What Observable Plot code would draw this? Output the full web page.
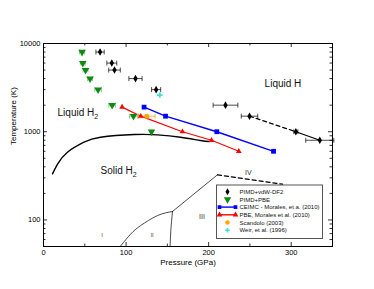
<!DOCTYPE html>
<html><head><meta charset="utf-8">
<script src="https://cdn.jsdelivr.net/npm/d3@7"></script>
<script src="https://cdn.jsdelivr.net/npm/@observablehq/plot@0.6"></script>
<style>
body{margin:0;background:#fff;}
#chart{width:374px;height:289px;}
</style>
</head><body><div id="chart"></div>
<script>
// ---------- data ----------
const vdwP   = [68.5, 82.7, 86, 111.4, 136.4, 220.4, 249.5, 305.6, 334.6];
const vdwT   = [8000, 6000, 5000, 4000, 3000, 2000, 1500, 1000, 800];
const vdwErr = [5, 6, 7, 8, 5.5, 15, 10, 2.5, 17];

const pbeP   = [46.7, 47.6, 50.9, 56.4, 66.1, 83.1, 109, 130.8];
const pbeT   = [8000, 6000, 5000, 4000, 3000, 2000, 1500, 1000];
const pbeErr = [3, 3, 3, 3, 4, 4, 5, 0];

const ceimcP = [121.8, 147.8, 209.9, 278.6];
const ceimcT = [1900, 1500, 1000, 600];

const moralesP = [95.2, 117.8, 168.3, 203.5, 236.5];
const moralesT = [1900, 1500, 1000, 800, 600];

const scandoloP = [125.1], scandoloT = [1500], scandoloErr = [10];
const weirP = [140.8], weirT = [2600];

const meltP = [10.9, 17, 29, 49, 69, 110, 138, 166, 190, 201];
const meltT = [333, 430, 586, 760, 866, 929, 922, 866, 795, 774];

const bIIP = [93.6, 105.8, 117.8, 138, 156.2];
const bIIT = [51, 69.5, 86.5, 112, 124.6];
const bIIIP = [153.3, 154.2, 156.2];
const bIIIT = [50, 76, 124.6];
const bIVP = [156.2, 210.7];
const bIVT = [124.6, 325];
const bIVdashP = [210.7, 289.4];
const bIVdashT = [325, 254];

const vdwDashIdx = [6, 7];
const vdwSolidIdx = [7, 8];

const xMajor = [0, 100, 200, 300];
const xMinor = [50, 150, 250];
const yMajor = [100, 1000, 10000];
const yMinor = [60,70,80,90,200,300,400,500,600,700,800,900,2000,3000,4000,5000,6000,7000,8000,9000];

const smallPhaseLabels = [{p: 71, t: 67, s: "I"}, {p: 131.5, t: 67, s: "II"}];
const bigPhaseLabels = [{p: 192, t: 108, s: "III"}, {p: 248, t: 340, s: "IV"}];
const startLabels = [{p: 17, t: 1650, s: "Liquid H_2"}, {p: 69, t: 360, s: "Solid H_2"}];
const middleLabels = [{p: 290, t: 3480, s: "Liquid H"}];

const legendLabels = ["PIMD+vdW-DF2", "PIMD+PBE", "CEIMC - Morales, et a. (2010)",
  "PBE, Morales et al. (2010)", "Scandolo (2003)", "Weir, et al. (1996)"];

// ---------- build ----------
const zip = (ps, ts, es) => ps.map((p, i) => ({p, t: ts[i], e: es ? es[i] : 0}));
const vdw = zip(vdwP, vdwT, vdwErr);
const pbe = zip(pbeP, pbeT, pbeErr);
const ceimc = zip(ceimcP, ceimcT);
const morales = zip(moralesP, moralesT);
const scandolo = zip(scandoloP, scandoloT, scandoloErr);
const weir = zip(weirP, weirT);
const melt = zip(meltP, meltT);
const ends = arr => arr.filter(d => d.e > 0).flatMap(d => [{p: d.p - d.e, t: d.t}, {p: d.p + d.e, t: d.t}]);

const vbar = {draw(ctx, size){ const h = Math.sqrt(size) / 2; ctx.moveTo(0, -h); ctx.lineTo(0, h); }};

const W = 374, H = 289, mL = 43, mR = 42, mT = 43, mB = 43;
const innerW = W - mL - mR, innerH = H - mT - mB;
const font = "'Liberation Sans', Arial, Helvetica, sans-serif";

const errMarks = (arr, color, w) => [
  Plot.link(arr.filter(d => d.e > 0), {x1: d => d.p - d.e, x2: d => d.p + d.e, y1: "t", y2: "t", stroke: color, strokeWidth: w}),
  Plot.dot(ends(arr), {x: "p", y: "t", symbol: vbar, r: 2.8, stroke: color, fill: "none", strokeWidth: w})
];

const svg = Plot.plot({
  width: W, height: H,
  marginLeft: mL, marginRight: mR, marginTop: mT, marginBottom: mB,
  style: {fontFamily: font, fontSize: "7.5px", background: "white", color: "black"},
  x: {domain: [0, 350], axis: null},
  y: {type: "log", domain: [50, 10000], axis: null},
  marks: [
    // ticks (inward)
    Plot.ruleX(xMajor, {insetTop: innerH - 4, stroke: "black", strokeWidth: 0.8}),
    Plot.ruleX(xMajor, {insetBottom: innerH - 4, stroke: "black", strokeWidth: 0.8}),
    Plot.ruleX(xMinor, {insetTop: innerH - 2.5, stroke: "black", strokeWidth: 0.8}),
    Plot.ruleX(xMinor, {insetBottom: innerH - 2.5, stroke: "black", strokeWidth: 0.8}),
    Plot.ruleY(yMajor, {insetRight: innerW - 4, stroke: "black", strokeWidth: 0.8}),
    Plot.ruleY(yMajor, {insetLeft: innerW - 4, stroke: "black", strokeWidth: 0.8}),
    Plot.ruleY(yMinor, {insetRight: innerW - 2.5, stroke: "black", strokeWidth: 0.8}),
    Plot.ruleY(yMinor, {insetLeft: innerW - 2.5, stroke: "black", strokeWidth: 0.8}),
    Plot.axisX(xMajor, {tickSize: 0, tickPadding: 3, label: null, fontSize: 7.5}),
    Plot.axisY(yMajor, {tickSize: 0, tickPadding: 3, label: null, tickFormat: d => String(d), fontSize: 7.5}),
    Plot.text(["Pressure (GPa)"], {frameAnchor: "bottom", dy: 16, fontSize: 8, lineAnchor: "middle"}),
    Plot.text(["Temperature (K)"], {frameAnchor: "left", dx: -30, rotate: -90, fontSize: 8, lineAnchor: "middle"}),

    // phase boundaries
    Plot.line(zip(bIIP, bIIT), {x: "p", y: "t", curve: "natural", stroke: "black", strokeWidth: 0.7}),
    Plot.line(zip(bIIIP, bIIIT), {x: "p", y: "t", curve: "natural", stroke: "black", strokeWidth: 0.7}),
    Plot.line(zip(bIVP, bIVT), {x: "p", y: "t", stroke: "black", strokeWidth: 0.7}),
    Plot.line(zip(bIVdashP, bIVdashT), {x: "p", y: "t", stroke: "black", strokeWidth: 1.3, strokeDasharray: "4,3"}),
    Plot.line(melt, {x: "p", y: "t", curve: "natural", stroke: "black", strokeWidth: 1.4}),

    // labels
    Plot.text(smallPhaseLabels, {x: "p", y: "t", text: "s", fontSize: 6, fill: "#555"}),
    Plot.text(bigPhaseLabels, {x: "p", y: "t", text: "s", fontSize: 7, fill: "#333"}),
    Plot.text(startLabels, {x: "p", y: "t", text: "s", textAnchor: "start", fontSize: 10, fill: "#111"}),
    Plot.text(middleLabels, {x: "p", y: "t", text: "s", textAnchor: "middle", fontSize: 10, fill: "#111"}),

    // vdW lines
    Plot.line(vdwDashIdx.map(i => vdw[i]), {x: "p", y: "t", stroke: "black", strokeWidth: 1.2, strokeDasharray: "4,3"}),
    Plot.line(vdwSolidIdx.map(i => vdw[i]), {x: "p", y: "t", stroke: "black", strokeWidth: 1.2}),

    // series lines
    Plot.line(ceimc, {x: "p", y: "t", stroke: "#0000ff", strokeWidth: 1.4}),
    Plot.line(morales, {x: "p", y: "t", stroke: "#ff0000", strokeWidth: 1.2}),

    // error bars
    ...errMarks(pbe, "#8fd18f", 1),
    ...errMarks(vdw, "black", 0.7),
    ...errMarks(scandolo, "#ffa500", 0.8),

    // points
    Plot.dot(pbe, {x: "p", y: "t", symbol: "triangle", rotate: 180, r: 2.8, fill: "#118811"}),
    Plot.dot(vdw, {x: "p", y: "t", symbol: "diamond", r: 2.3, fill: "black"}),
    Plot.dot(ceimc, {x: "p", y: "t", symbol: "square", r: 2.7, fill: "#0000ff"}),
    Plot.dot(morales, {x: "p", y: "t", symbol: "triangle", r: 2.1, fill: "#ff0000"}),
    Plot.dot(scandolo, {x: "p", y: "t", symbol: "circle", r: 2.5, fill: "#ffa500"}),
    Plot.dot(weir, {x: "p", y: "t", symbol: "cross", r: 2.3, fill: "#40e0d0"}),

    Plot.frame({stroke: "black", strokeWidth: 1})
  ]
});

// subscripts
d3.select(svg).selectAll("text").each(function() {
  const el = d3.select(this);
  const txt = el.text();
  if (txt.includes("_2")) {
    const base = txt.replace("_2", "");
    el.text(null);
    el.append("tspan").text(base);
    el.append("tspan").attr("font-size", 7).attr("dy", "0.45em").text("2");
  }
});

// legend (inside plot area)
const lg = d3.select(svg).append("g").attr("font-family", font).attr("font-size", 6)
  .attr("text-anchor", "start");
lg.append("rect").attr("x", 216.5).attr("y", 185).attr("width", 106).attr("height", 53.5)
  .attr("fill", "white").attr("stroke", "#555").attr("stroke-width", 1);
const legItems = [
  {sym: d3.symbolDiamond, fill: "black", rot: 0, size: 14},
  {sym: d3.symbolTriangle, fill: "#118811", rot: 180, size: 24},
  {sym: d3.symbolSquare, fill: "#0000ff", rot: 0, size: 14, line: "#0000ff"},
  {sym: d3.symbolTriangle, fill: "#ff0000", rot: 0, size: 14, line: "#ff0000"},
  {sym: d3.symbolCircle, fill: "#ffa500", rot: 0, size: 16},
  {sym: d3.symbolCross, fill: "#40e0d0", rot: 0, size: 12}
];
legItems.forEach((it, i) => {
  const y = 191.7 + i * 7.7;
  const g = lg.append("g");
  if (it.line) {
    g.append("line").attr("x1", 218).attr("x2", 237).attr("y1", y).attr("y2", y)
      .attr("stroke", it.line).attr("stroke-width", 1.4);
    g.append("path").attr("d", d3.symbol(it.sym, it.size)()).attr("fill", it.fill)
      .attr("transform", `translate(219.5,${y})`);
    g.append("path").attr("d", d3.symbol(it.sym, it.size)()).attr("fill", it.fill)
      .attr("transform", `translate(235.5,${y})`);
  } else {
    g.append("path").attr("d", d3.symbol(it.sym, it.size)()).attr("fill", it.fill)
      .attr("transform", `translate(227.5,${y}) rotate(${it.rot})`);
  }
  lg.append("text").attr("x", 239.5).attr("y", y).attr("dy", "0.35em")
    .attr("text-anchor", "start").attr("fill", "#111").text(legendLabels[i]);
});

document.getElementById("chart").appendChild(svg);
</script>
</body></html>
